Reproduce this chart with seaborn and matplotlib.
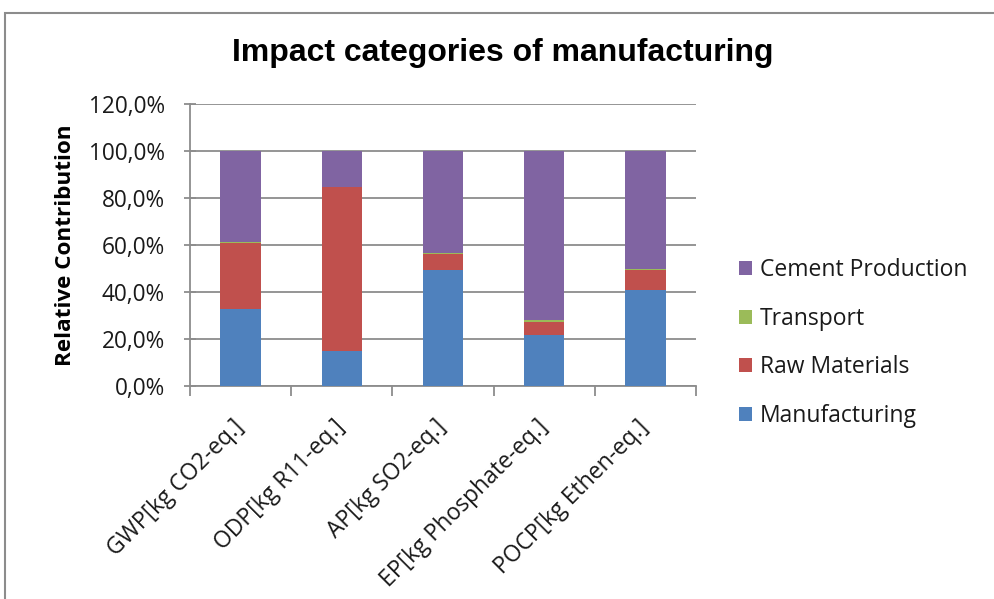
import matplotlib
matplotlib.use("Agg")
import matplotlib.pyplot as plt
import seaborn as sns
import pandas as pd
import numpy as np
from matplotlib.patches import Rectangle, Patch
from matplotlib.ticker import FuncFormatter

categories = ["GWP[kg CO2-eq.]", "ODP[kg R11-eq.]", "AP[kg SO2-eq.]",
              "EP[kg Phosphate-eq.]", "POCP[kg Ethen-eq.]"]
manufacturing = [32.8, 15.0, 49.4, 21.7, 41.0]
raw_materials = [28.0, 69.6, 6.8, 5.5, 8.4]
transport = [0.3, 0.1, 0.5, 0.9, 0.4]
cement = [38.9, 15.3, 43.3, 71.9, 50.2]
series_names = ["Manufacturing", "Raw Materials", "Transport", "Cement Production"]
colors = ["#4F81BD", "#C0504D", "#9BBB59", "#8064A2"]
yticks = [0, 20, 40, 60, 80, 100, 120]

sns.set_theme(style="white")
plt.rcParams['font.family'] = ['Open Sans', 'DejaVu Sans']

fig = plt.figure(figsize=(9.94, 5.99), dpi=100)
ax = fig.add_axes([190/994, 1-386/599, 506/994, 282/599])

series = [manufacturing, raw_materials, transport, cement]
cum = np.cumsum(np.array(series), axis=0)
df = pd.DataFrame({"cat": categories})
for i in range(len(series)-1, -1, -1):
    df["v"] = cum[i]
    sns.barplot(data=df, x="cat", y="v", color=colors[i], width=0.4,
                saturation=1, ax=ax, zorder=3, legend=False,
                edgecolor="none")

grid_c = "#8c8c8c"
ax.set_ylim(0, 120)
ax.set_xlim(-0.5, 4.5)
ax.set_yticks(yticks)
ax.yaxis.set_major_formatter(FuncFormatter(lambda v, p: f"{v:.1f}%".replace(".", ",")))
ax.grid(axis="y", color=grid_c, linewidth=1.3, zorder=0)
ax.set_axisbelow(True)
for s in ["top", "right"]:
    ax.spines[s].set_visible(False)
for s in ["left", "bottom"]:
    ax.spines[s].set_color(grid_c)
    ax.spines[s].set_linewidth(1.3)
ax.tick_params(axis="y", length=8, direction="inout", color=grid_c, width=1.3,
               labelsize=16.3, pad=14, left=True, labelcolor="#1a1a1a")
ax.set_xticks(range(len(categories)))
ax.set_xticklabels(categories, rotation=45, ha="right", va="center",
                   rotation_mode="anchor", fontsize=16.5)
ax.tick_params(axis="x", length=0, pad=27, labelcolor="#1a1a1a")
ax.set_xticks(np.arange(-0.5, 5, 1), minor=True)
ax.tick_params(axis="x", which="minor", length=7, color=grid_c, width=1.3, bottom=True)
ax.set_xlabel("")
ax.set_ylabel("Relative Contribution", fontsize=16.2, fontweight="bold", labelpad=9,
              color="#000000")

fig.text(503/994, 1-53/599, "Impact categories of manufacturing",
         ha="center", va="center", fontsize=23, fontweight="bold",
         family=["Liberation Sans", "DejaVu Sans"], color="#000000")

h = [Patch(facecolor=c, edgecolor="none") for c in colors[::-1]]
fig.legend(h, series_names[::-1], loc="center left",
           bbox_to_anchor=(718/994, 1-343/599), frameon=False,
           fontsize=16.5, handlelength=0.57, handleheight=0.57,
           handletextpad=0.35, labelspacing=1.07, borderpad=0.4,
           labelcolor="#1a1a1a")

fig.patches.append(Rectangle((5/994, -0.1), 1.2, 1.1 - 13/599, transform=fig.transFigure,
                             fill=False, edgecolor=grid_c, linewidth=1.5))

fig.savefig("out.png", dpi=100)
